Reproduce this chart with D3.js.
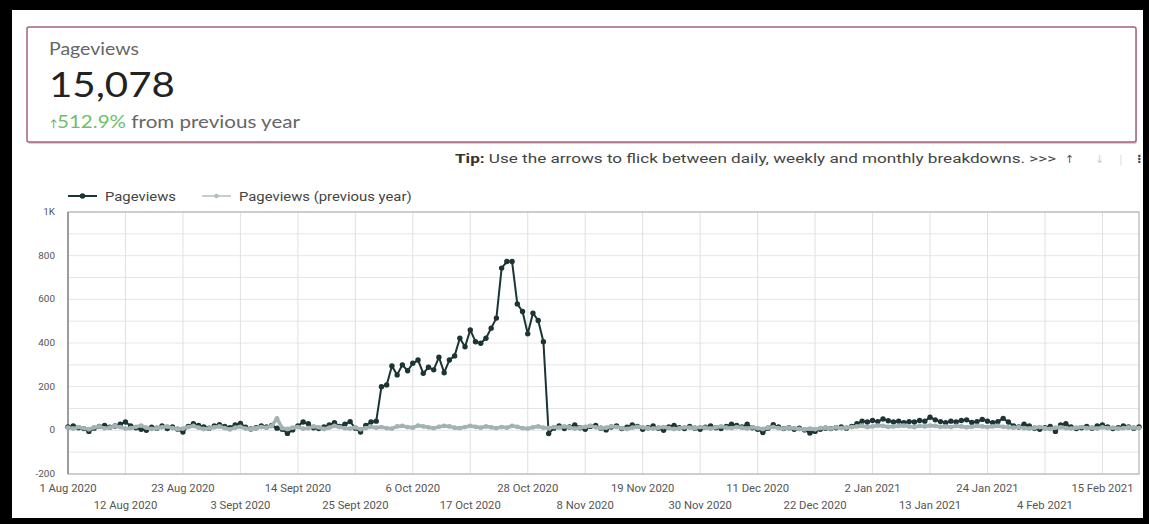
<!DOCTYPE html>
<html>
<head>
<meta charset="utf-8">
<script src="https://cdn.jsdelivr.net/npm/d3@7"></script>
<style>
  body { margin: 0; background: #000; }
  svg { display: block; }
</style>
</head>
<body>
<div id="chart"></div>
<script>
// first day of the daily series (Aug 1 2020), one value per day after that
var startDate = "2020-08-01";
var endDate = "2021-02-22";

// daily pageviews
var pageviews = [
  15, 20, 12, 8, -5, 10, 18, 22, 14, 20, 28, 38, 20, 12, 5, 0, 14, 10, 20, 8,
  15, 5, -8, 18, 30, 22, 15, 10, 20, 26, 18, 12, 25, 32, 14, 6, 12, 20, 15, 22,
  10, 5, -14, 2, 20, 38, 30, 12, 8, 15, 25, 35, 18, 28, 40, 10, -8, 22, 38, 42,
  200, 208, 295, 254, 300, 273, 307, 322, 261, 289, 277, 335, 264, 322, 341, 422, 383, 460, 406, 399,
  422, 468, 514, 743, 773, 773, 579, 544, 442, 537, 503, 406, -15, 10, 20, 8, 15, 25, 12, 5,
  18, 22, 10, 2, 15, 20, 8, 14, 25, 18, 5, 12, 20, 10, 0, 15, 22, 12, 8, 18,
  10, 5, 14, 20, 12, 8, 18, 28, 22, 15, 28, 12, 5, -10, 10, 26, 15, 8, 12, 5,
  10, 2, -12, -5, 5, 10, 8, 12, 15, 10, 18, 30, 42, 38, 45, 40, 52, 44, 38, 42,
  35, 40, 38, 45, 42, 60, 48, 40, 35, 42, 38, 45, 48, 36, 40, 50, 42, 35, 40, 55,
  38, 20, 15, 28, 20, 10, 5, 12, 18, -5, 25, 30, 15, 8, 12, 18, 10, 20, 25, 15,
  8, 12, 20, 15, 10, 15
];

// daily pageviews for the same days one year earlier
var previousYear = [
  12, 8, 15, 10, 5, 14, 18, 9, 12, 20, 15, 8, 10, 16, 22, 12, 6, 10, 14, 18,
  10, 5, 8, 15, 20, 12, 6, 9, 14, 18, 10, 4, 12, 16, 8, 5, 10, 15, 12, 20,
  55, 10, 6, 12, 15, 8, 10, 18, 14, 6, 12, 20, 15, 10, 8, 14, 5, 10, 16, 12,
  15, 10, 8, 18, 20, 15, 12, 22, 18, 14, 10, 16, 20, 18, 12, 10, 15, 20, 16, 12,
  18, 14, 10, 15, 12, 20, 16, 10, 8, 14, 18, 12, 10, 15, 12, 18, 14, 8, 12, 16,
  20, 14, 10, 12, 18, 15, 10, 6, 12, 16, 14, 10, 8, 12, 15, 10, 6, 9, 14, 12,
  10, 15, 12, 8, 14, 18, 12, 10, 15, 12, 8, 14, 10, 6, 12, 15, 10, 8, 12, 10,
  6, 4, 8, 5, 10, 12, 8, 14, 10, 12, 15, 18, 20, 15, 18, 22, 20, 16, 18, 20,
  22, 18, 15, 20, 18, 22, 20, 16, 18, 15, 20, 18, 14, 16, 20, 18, 15, 18, 20, 16,
  14, 12, 15, 10, 8, 12, 15, 10, 6, 12, 14, 10, 8, 12, 15, 10, 12, 8, 14, 10,
  12, 8, 10, 14, 12, 10
];

var yTicks = [-200, 0, 200, 400, 600, 800, 1000];
var yTickLabels = ["-200", "0", "200", "400", "600", "800", "1K"];

var xTickDates = [
  "2020-08-01", "2020-08-12", "2020-08-23", "2020-09-03", "2020-09-14", "2020-09-25",
  "2020-10-06", "2020-10-17", "2020-10-28", "2020-11-08", "2020-11-19", "2020-11-30",
  "2020-12-11", "2020-12-22", "2021-01-02", "2021-01-13", "2021-01-24", "2021-02-04",
  "2021-02-15"
];
var xTickLabels = [
  "1 Aug 2020", "12 Aug 2020", "23 Aug 2020", "3 Sept 2020", "14 Sept 2020", "25 Sept 2020",
  "6 Oct 2020", "17 Oct 2020", "28 Oct 2020", "8 Nov 2020", "19 Nov 2020", "30 Nov 2020",
  "11 Dec 2020", "22 Dec 2020", "2 Jan 2021", "13 Jan 2021", "24 Jan 2021", "4 Feb 2021",
  "15 Feb 2021"
];

var kpiTitle = "Pageviews";
var kpiValue = "15,078";
var kpiChange = "512.9%";

function draw() {
    "use strict";
    var W = 1149, H = 524;
    var parse = d3.timeParse("%Y-%m-%d");
    var start = parse(startDate);
    // the screenshot is a bit stretched sideways, so text gets scaled in x
    var stretch = 1.15;

    var svg = d3.select("#chart").append("svg")
        .attr("width", W).attr("height", H);

    // black frame round the screenshot
    svg.append("rect").attr("width", W).attr("height", H).attr("fill", "#000");
    svg.append("rect").attr("x", 12).attr("y", 10)
        .attr("width", 1131).attr("height", 508).attr("fill", "#fff");

    //KPI scorecard
    svg.append("rect").attr("x", 28).attr("y", 29)
        .attr("width", 1109).attr("height", 115)
        .attr("fill", "#d8d0d4").attr("rx", 2);
    svg.append("rect").attr("x", 27).attr("y", 27)
        .attr("width", 1109).attr("height", 115)
        .attr("fill", "#fff").attr("stroke", "#a4607f").attr("stroke-width", 1.5).attr("rx", 2);

    var kpi = svg.append("g").style("font-family", "Lato, 'Open Sans', sans-serif");
    kpi.append("text").attr("transform", "translate(49,55) scale(" + stretch + ",1)")
        .style("font-size", "17px").style("fill", "#666").text(kpiTitle);
    kpi.append("text").attr("transform", "translate(49,97) scale(" + stretch + ",1)")
        .style("font-size", "35px").style("fill", "#222").text(kpiValue);
    kpi.append("text").attr("x", 50).attr("y", 127)
        .style("font-size", "10px").style("fill", "#4f9e52").text("\u2191");
    var chg = kpi.append("text").style("font-size", "18px");
    chg.append("tspan").style("fill", "#6dbf6a").text(kpiChange);
    chg.append("tspan").style("fill", "#666").text(" from previous year");
    var chgLen = chg.node().getComputedTextLength();
    chg.attr("transform", "translate(57,128) scale(" + (243 / chgLen) + ",1)");

    //tip line above the chart, fitted to the width it has in the picture
    var tip = svg.append("text")
        .style("font-family", "Roboto, sans-serif").style("font-size", "13.5px").style("fill", "#444");
    tip.append("tspan").style("font-weight", "bold").style("fill", "#333").text("Tip:");
    tip.append("tspan").text(" Use the arrows to flick between daily, weekly and monthly breakdowns. >>>");
    var tipLen = tip.node().getComputedTextLength();
    tip.attr("transform", "translate(455,163) scale(" + (602 / tipLen) + ",1)");

    var icons = svg.append("g").style("font-family", "'DejaVu Sans', sans-serif");
    icons.append("text").attr("x", 1065).attr("y", 163).style("font-size", "11px").style("fill", "#555").text("\u2191");
    icons.append("text").attr("x", 1095).attr("y", 163).style("font-size", "11px").style("fill", "#ccc").text("\u2193");
    icons.append("text").attr("x", 1119).attr("y", 163).style("font-size", "11px").style("fill", "#ddd").text("|");
    icons.append("text").attr("x", 1137).attr("y", 163).style("font-size", "12px").style("font-weight", "bold").style("fill", "#444").text("\u205D");

    //chart area
    var left = 68, right = 1139, top = 212, bottom = 474;
    var x = d3.scaleTime().domain([start, parse(endDate)]).range([left, right]);
    var y = d3.scaleLinear().domain([-200, 1000]).range([bottom, top]);

    var current = pageviews.map(function (v, i) {
        return {date: d3.timeDay.offset(start, i), value: v};
    });
    var previous = previousYear.map(function (v, i) {
        return {date: d3.timeDay.offset(start, i), value: v};
    });

    var grid = svg.append("g");
    grid.selectAll("line.h").data(d3.range(-200, 1001, 100)).enter().append("line")
        .attr("x1", left).attr("x2", right)
        .attr("y1", function (d) { return y(d); }).attr("y2", function (d) { return y(d); })
        .attr("stroke", "#e6e6e6").attr("stroke-width", 1);
    grid.selectAll("line.v").data(xTickDates).enter().append("line")
        .attr("x1", function (d) { return x(parse(d)); }).attr("x2", function (d) { return x(parse(d)); })
        .attr("y1", top).attr("y2", bottom)
        .attr("stroke", "#e0e0e0").attr("stroke-width", 1);

    svg.append("rect").attr("x", left).attr("y", top)
        .attr("width", right - left).attr("height", bottom - top)
        .attr("fill", "none").attr("stroke", "#b4b4b4").attr("stroke-width", 1.2);
    svg.append("line").attr("x1", left).attr("x2", left).attr("y1", top).attr("y2", bottom)
        .attr("stroke", "#8c8c8c").attr("stroke-width", 1.5);

    //axes
    var yAxis = svg.append("g").style("font-family", "Roboto, sans-serif")
        .style("font-size", "9px").style("fill", "#555");
    yAxis.selectAll("text").data(yTicks).enter().append("text")
        .attr("transform", function (d) {
            return "translate(" + (left - 13) + "," + (y(d) + 3) + ") scale(1.1,1)";
        })
        .attr("text-anchor", "end")
        .text(function (d, i) { return yTickLabels[i]; });

    var xAxis = svg.append("g").style("font-family", "Roboto, sans-serif")
        .style("font-size", "10px").style("fill", "#555");
    xAxis.selectAll("text").data(xTickDates).enter().append("text")
        .attr("transform", function (d, i) {
            return "translate(" + x(parse(d)) + "," + (i % 2 === 0 ? 492 : 509) + ") scale(1.13,1)";
        })
        .attr("text-anchor", "middle")
        .text(function (d, i) { return xTickLabels[i]; });

    //series
    var line = d3.line()
        .x(function (d) { return x(d.date); })
        .y(function (d) { return y(d.value); });

    var darkColor = "#1c3434", greyColor = "#a3b2b2";

    svg.append("path").datum(current).attr("d", line)
        .attr("fill", "none").attr("stroke", darkColor).attr("stroke-width", 2)
        .attr("stroke-linejoin", "round");
    svg.append("g").selectAll("circle").data(current).enter().append("circle")
        .attr("cx", function (d) { return x(d.date); })
        .attr("cy", function (d) { return y(d.value); })
        .attr("r", 2.7).attr("fill", darkColor);

    svg.append("path").datum(previous).attr("d", line)
        .attr("fill", "none").attr("stroke", greyColor).attr("stroke-width", 3.5)
        .attr("stroke-linejoin", "round");
    svg.append("g").selectAll("circle").data(previous).enter().append("circle")
        .attr("cx", function (d) { return x(d.date); })
        .attr("cy", function (d) { return y(d.value); })
        .attr("r", 2.4).attr("fill", greyColor);

    //legend
    var legend = svg.append("g").style("font-family", "Roboto, sans-serif")
        .style("font-size", "13.5px").style("fill", "#444");
    var items = [
        {name: "Pageviews", color: darkColor, x: 68, w: 2, r: 2.8},
        {name: "Pageviews (previous year)", color: "#b3bebe", x: 202, w: 1.5, r: 2.2}
    ];
    items.forEach(function (it) {
        legend.append("line").attr("x1", it.x).attr("x2", it.x + 29)
            .attr("y1", 196).attr("y2", 196)
            .attr("stroke", it.color).attr("stroke-width", it.w);
        legend.append("circle").attr("cx", it.x + 14.5).attr("cy", 196)
            .attr("r", it.r).attr("fill", it.color);
        legend.append("text").attr("transform", "translate(" + (it.x + 37) + ",200.5) scale(1.1,1)")
            .text(it.name);
    });
}

draw();
</script>
</body>
</html>
